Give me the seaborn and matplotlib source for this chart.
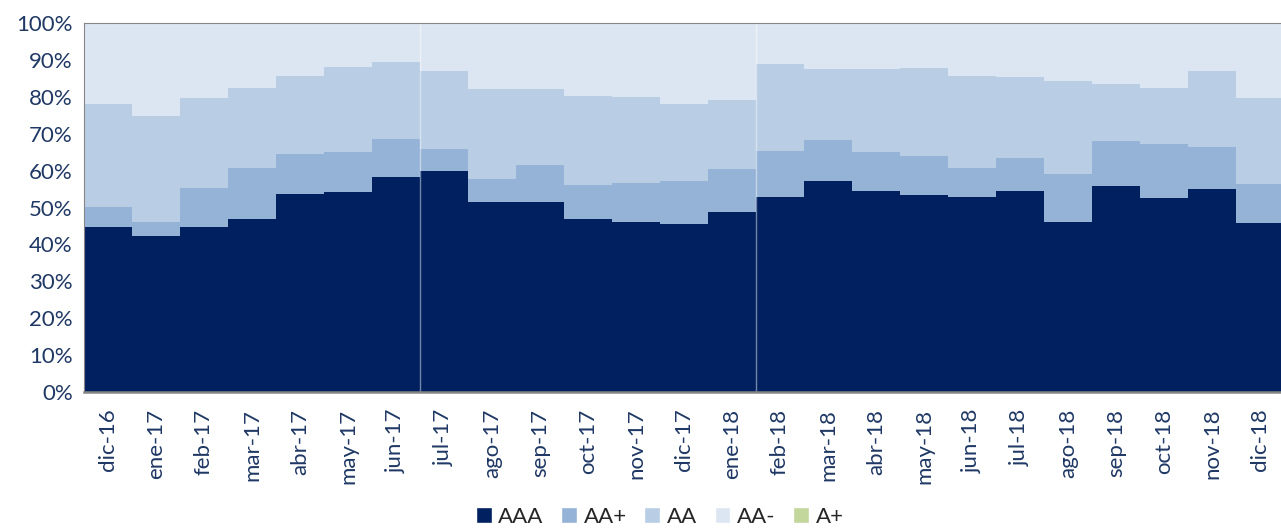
import numpy as np
import pandas as pd
import matplotlib
matplotlib.use("Agg")
import matplotlib.pyplot as plt
from matplotlib.patches import Patch
import seaborn as sns

# Datos (% de cartera por calificación)
meses = ["dic-16", "ene-17", "feb-17", "mar-17", "abr-17", "may-17", "jun-17",
         "jul-17", "ago-17", "sep-17", "oct-17", "nov-17", "dic-17", "ene-18",
         "feb-18", "mar-18", "abr-18", "may-18", "jun-18", "jul-18", "ago-18",
         "sep-18", "oct-18", "nov-18", "dic-18"]
aaa = [44.6, 42.3, 44.6, 46.8, 53.7, 54.3, 58.3, 59.8, 51.6, 51.4, 46.9, 46.2, 45.6,
       48.7, 52.8, 57.3, 54.4, 53.4, 52.9, 54.4, 46.2, 55.9, 52.7, 54.9, 45.9]
aa_mas = [5.5, 3.8, 10.7, 14.0, 10.9, 10.8, 10.3, 6.1, 6.1, 10.1, 9.3, 10.4, 11.5,
          11.6, 12.5, 11.0, 10.7, 10.6, 7.9, 9.1, 13.0, 12.2, 14.6, 11.4, 10.6]
aa = [27.9, 28.7, 24.3, 21.5, 21.1, 23.0, 20.9, 21.1, 24.4, 20.6, 23.9, 23.3, 20.9,
      18.8, 23.6, 19.1, 22.5, 23.8, 24.8, 21.9, 25.1, 15.5, 15.2, 20.8, 23.1]
aa_menos = [22.0, 24.9, 20.1, 17.7, 14.3, 11.9, 10.5, 13.0, 17.9, 17.9, 19.9, 20.1, 22.0,
            20.9, 11.1, 12.6, 12.4, 12.2, 14.4, 14.6, 15.7, 16.4, 17.5, 12.9, 20.4]
a_mas = [0.0, 0.3, 0.3, 0.0, 0.0, 0.0, 0.0, 0.0, 0.0, 0.0, 0.0, 0.0, 0.0,
         0.0, 0.0, 0.0, 0.0, 0.0, 0.0, 0.0, 0.0, 0.0, 0.0, 0.0, 0.0]

calificaciones = ["AAA", "AA+", "AA", "AA-", "A+"]
colores = ["#002060", "#95B3D7", "#B9CDE5", "#DCE6F2", "#C3D69B"]

series = [aaa, aa_mas, aa, aa_menos, a_mas]
df = pd.concat([pd.DataFrame({"pos": np.arange(len(meses)), "valor": v, "calif": c})
                for v, c in zip(series, calificaciones)], ignore_index=True)

sns.set_style("white")
plt.rcParams["font.family"] = ["Lato", "DejaVu Sans"]

fig = plt.figure(figsize=(12.81, 5.29), dpi=100)
ax = fig.add_axes([84 / 1281, 137 / 529, 1200 / 1281, 369 / 529])

# seaborn apila el último nivel abajo, así que se invierte el orden
sns.histplot(data=df, x="pos", weights="valor", hue="calif",
             hue_order=calificaciones[::-1], palette=colores[::-1],
             multiple="stack", discrete=True, shrink=1, linewidth=0,
             alpha=1, legend=False, ax=ax)

# líneas verticales de separación
for xv in [6.5, 13.5]:
    ax.axvline(xv, color="white", alpha=0.45, lw=1)

ax.set_xlim(-0.5, len(meses) - 0.5)
ax.set_ylim(0, 100)
ax.set_yticks(np.arange(0, 101, 10))
ax.set_yticklabels([f"{v}%" for v in range(0, 101, 10)])
ax.set_xticks(np.arange(len(meses)))
ax.set_xticklabels(meses, rotation=90)
ax.set_xlabel("")
ax.set_ylabel("")
ax.tick_params(axis="both", length=0, labelsize=16, colors="#1F3864")
ax.tick_params(axis="x", pad=12)
ax.tick_params(axis="y", pad=8)

for s in ["left", "bottom", "top"]:
    ax.spines[s].set_color("#868686")
ax.spines["bottom"].set_linewidth(1.8)
ax.spines["right"].set_visible(False)

handles = [Patch(facecolor=c, label=l) for c, l in zip(colores, calificaciones)]
fig.legend(handles=handles, loc="lower center", ncol=5, frameon=False,
           bbox_to_anchor=(0.515, -0.025), fontsize=16, handlelength=0.7,
           handleheight=0.7, handletextpad=0.3, columnspacing=0.8,
           borderpad=0.2)

fig.savefig("out.png", dpi=100)
